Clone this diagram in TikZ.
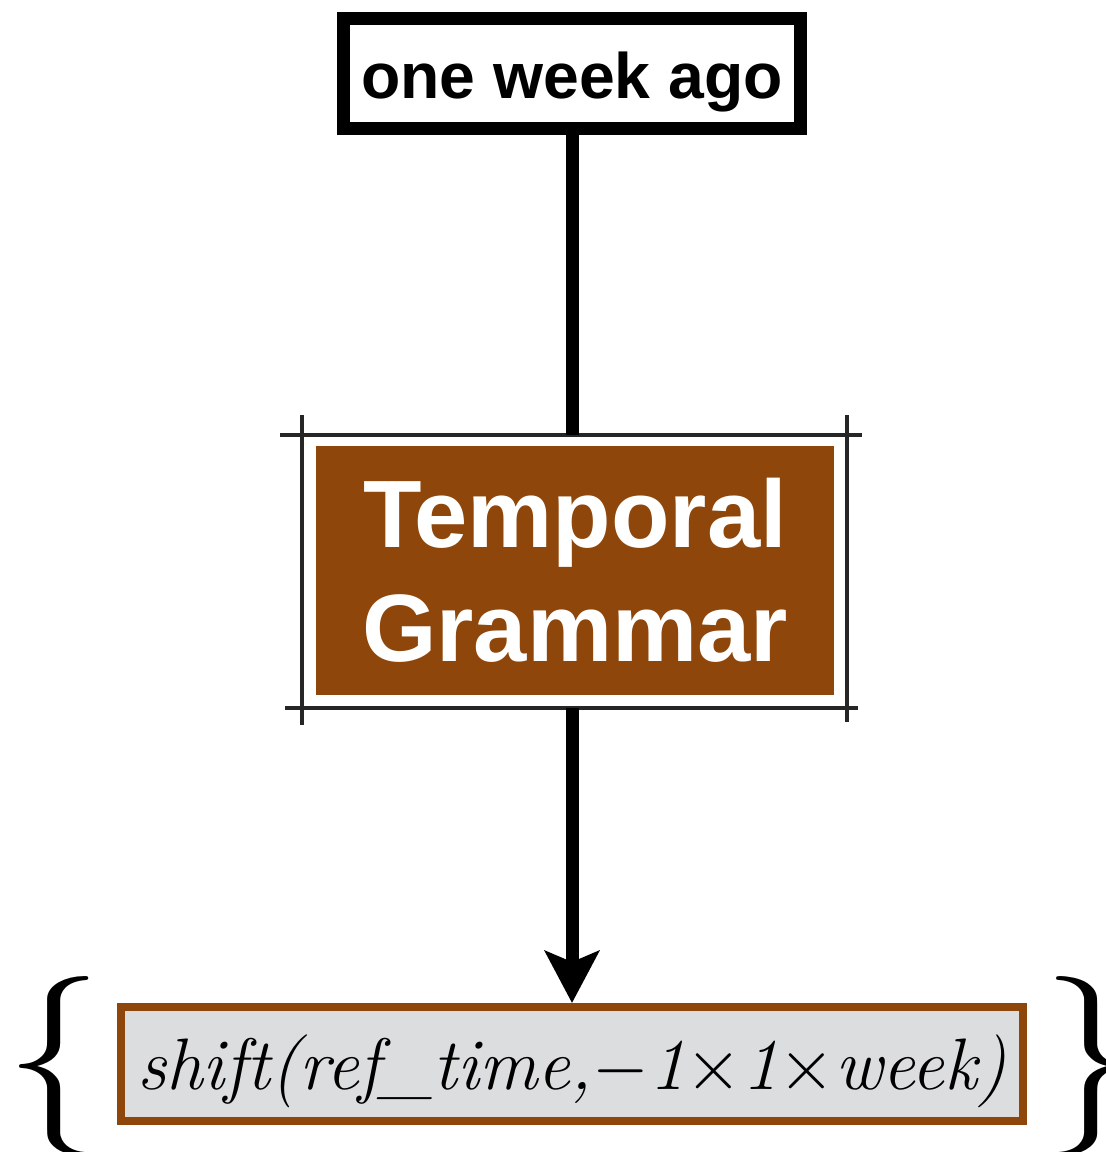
\RequirePackage{fix-cm}
\documentclass[tikz,border=0pt]{standalone}
\usepackage{fontspec}
\usepackage{graphicx}
\usetikzlibrary{arrows.meta}
\newfontfamily\sansf{Liberation Sans}
\definecolor{gbrown}{RGB}{143,70,10}
\definecolor{ggray}{RGB}{220,221,223}
\newcommand{\gline}{0.26cm}
\newcommand{\fline}{0.16cm}
\newcommand{\bracew}{1.95cm}
\newcommand{\braceh}{3.6cm}

\begin{document}
\begin{tikzpicture}[x=0.02cm, y=-0.02cm]
        \tikzset{wordbox/.style = {draw, line width=\gline, minimum width=9.14cm, minimum height=2.2cm,
                 inner sep=0pt, text height=1.02cm, text depth=0pt,
                 font=\sansf\bfseries\fontsize{36.6pt}{44pt}\selectfont}}
        \tikzset{grammarbox/.style = {fill=gbrown, text=white, align=center, minimum width=10.38cm,
                 minimum height=4.98cm, inner sep=0pt,
                 font=\sansf\bfseries\fontsize{54.5pt}{65pt}\selectfont}}
        \tikzset{framebox/.style = {minimum width=10.9cm, minimum height=5.46cm, inner sep=0pt, outer sep=0pt}}
        \tikzset{sketch/.style = {draw=black!85, line width=1.8pt}}
        \tikzset{resultbox/.style = {draw=gbrown, fill=ggray, line width=\fline, minimum width=18.06cm,
                 minimum height=2.28cm, inner sep=0pt, text height=1.36cm, text depth=0.36cm,
                 font=\fontsize{41.5pt}{50pt}\selectfont}}
        \tikzset{flow/.style = {line width=\gline}}
        \clip (0,0) rectangle (1105,1152);

        \node[wordbox] (ago) at (572,73.5) {one week ago};
        \node[grammarbox] (tg) at (575,570.5) {Temporal\\Grammar};
        \node[framebox] (tgframe) at (574.5,571.5) {};
        \node[resultbox] (res) at (572,1064)
            {\textit{shift(ref\_time,}$-$\textit{1}$\times$\textit{1}$\times$\textit{week)}};
        \node[inner sep=0pt] (lbrace) at (54,1066) {\resizebox*{\bracew}{\braceh}{$\{$}};
        \node[inner sep=0pt] (rbrace) at (1091,1066) {\resizebox*{\bracew}{\braceh}{$\}$}};

        % pencil frame round the grammar box
        \draw[sketch, shorten <=-0.44cm, shorten >=-0.3cm] (tgframe.north west) -- (tgframe.north east);
        \draw[sketch, shorten <=-0.34cm, shorten >=-0.22cm] (tgframe.south west) -- (tgframe.south east);
        \draw[sketch, shorten <=-0.4cm, shorten >=-0.34cm] (tgframe.north west) -- (tgframe.south west);
        \draw[sketch, shorten <=-0.4cm, shorten >=-0.28cm] (tgframe.north east) -- (tgframe.south east);

        \draw[flow] (ago.south) -- (ago.south |- tgframe.north);
        \draw[flow, -{Stealth[length=1.04cm, width=1.08cm, inset=0.22cm]}] (res.north |- tgframe.south) -- (res.north);
\end{tikzpicture}
\end{document}
